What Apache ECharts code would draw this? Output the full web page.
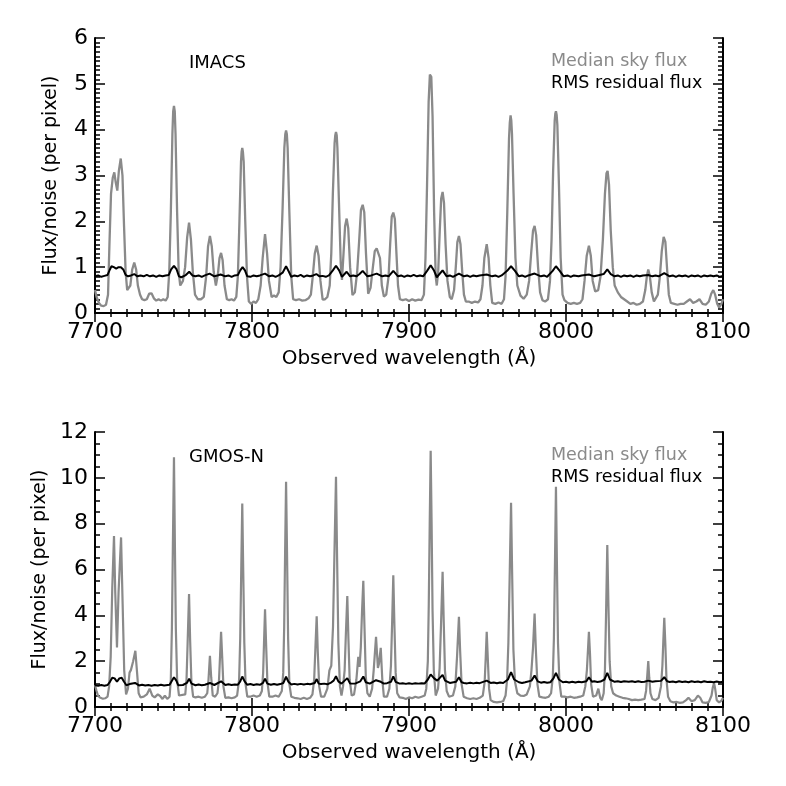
<!DOCTYPE html>
<html>
<head>
<meta charset="utf-8">
<script src="https://cdn.jsdelivr.net/npm/echarts@6/dist/echarts.min.js"></script>
<style>
  html, body { margin: 0; padding: 0; background: #fff; }
  #main { width: 786px; height: 786px; }
</style>
</head>
<body>
<div id="main"></div>
<script>
// wavelength (A), flux/noise
const imacsSky = [
  [7700, 0.5], [7701, 0.35], [7702.5, 0.22], [7704, 0.16], [7705.5, 0.15], [7707, 0.18], [7708.3, 0.4],
  [7709.2, 1.5], [7710.2, 2.6], [7711.3, 2.95], [7712.3, 3.07], [7713.2, 2.85], [7714.2, 2.67], [7715.2, 3.1],
  [7716.4, 3.37], [7717.5, 3.0], [7718.5, 1.9], [7719.5, 0.9], [7720.5, 0.5], [7721.5, 0.48],
  [7722.5, 0.6], [7723.7, 0.95], [7725, 1.1], [7726.2, 0.95], [7727.3, 0.6], [7728.7, 0.4], [7730, 0.3],
  [7731.5, 0.28], [7733, 0.3], [7734.5, 0.42], [7736, 0.43], [7737.5, 0.32], [7739, 0.27], [7740.5, 0.3],
  [7742, 0.27], [7743.5, 0.3], [7745, 0.27], [7746.3, 0.35],
  [7747.3, 0.9], [7748.3, 2.2], [7749.3, 3.9], [7749.8, 4.4], [7750.3, 4.52], [7750.8, 4.4], [7751.3, 3.9], [7752.3, 2.2], [7753.3, 0.9], [7754.3, 0.6],
  [7756, 0.7], [7757.4, 1.0], [7758.7, 1.65], [7759.9, 1.97], [7761.1, 1.6], [7762.3, 0.9], [7763.7, 0.4], [7765.5, 0.3],
  [7767.5, 0.3], [7769.3, 0.35], [7770.8, 0.8], [7772, 1.45], [7773.2, 1.68], [7774.4, 1.45], [7775.6, 0.9], [7777, 0.6],
  [7778.3, 0.85], [7779.3, 1.2], [7780.3, 1.31], [7781.3, 1.15], [7782.5, 0.6], [7784, 0.3],
  [7785.5, 0.28], [7787, 0.3], [7788.5, 0.27], [7790, 0.35],
  [7791, 0.8], [7792, 2.0], [7793, 3.3], [7793.4, 3.52], [7793.8, 3.6], [7794.2, 3.52], [7794.7, 3.3], [7795.7, 2.0], [7796.8, 0.8], [7798, 0.25],
  [7799.5, 0.2], [7801, 0.25], [7802.5, 0.22], [7804, 0.3],
  [7805.5, 0.6], [7806.8, 1.2], [7808.3, 1.72], [7809.6, 1.3], [7810.8, 0.7], [7812.5, 0.35],
  [7814, 0.38], [7815.5, 0.35], [7817, 0.45],
  [7818.2, 1.0], [7819.5, 2.3], [7820.6, 3.6], [7821.2, 3.9], [7821.7, 3.98], [7822.2, 3.9], [7822.7, 3.6], [7823.8, 2.2], [7825, 0.8], [7826.2, 0.3],
  [7828, 0.28], [7830, 0.3], [7832, 0.27], [7834, 0.28], [7836, 0.32], [7837.5, 0.4],
  [7838.7, 0.8], [7840, 1.3], [7841.2, 1.47], [7842.4, 1.25], [7843.6, 0.7], [7845, 0.29],
  [7846.5, 0.3], [7848, 0.35], [7849.5, 0.6],
  [7850.5, 1.3], [7851.5, 2.6], [7852.6, 3.7], [7853.05, 3.88], [7853.5, 3.95], [7853.95, 3.88], [7854.4, 3.6], [7855.4, 2.4], [7856.5, 1.1], [7857.3, 0.72],
  [7858.3, 1.3], [7859.3, 1.9], [7860.3, 2.06], [7861.3, 1.85], [7862.5, 1.0], [7864, 0.39],
  [7865.5, 0.45], [7867, 0.9],
  [7868.3, 1.6], [7869.4, 2.25], [7870.5, 2.36], [7871.5, 2.2], [7872.6, 1.3], [7874, 0.42],
  [7875.5, 0.55], [7877, 1.0], [7878.2, 1.35], [7879.4, 1.41], [7880.5, 1.38], [7881.5, 1.2], [7882.7, 0.6], [7884, 0.36],
  [7885.5, 0.4], [7887, 0.8],
  [7888, 1.5], [7889, 2.1], [7890, 2.19], [7891, 2.05], [7892, 1.3], [7893, 0.6], [7894.2, 0.3],
  [7896, 0.28], [7898, 0.3], [7900, 0.26], [7902, 0.3], [7904, 0.27], [7906, 0.29], [7908, 0.28], [7909.5, 0.4],
  [7910.5, 1.2], [7911.5, 2.8], [7912.5, 4.6], [7913.3, 5.2], [7914.2, 5.15], [7915, 4.3], [7916, 2.2], [7917, 0.8], [7917.7, 0.6],
  [7918.6, 0.9], [7919.6, 1.8], [7920.5, 2.5], [7921.4, 2.64], [7922.3, 2.4], [7923.3, 1.5], [7924.5, 0.7], [7926, 0.35], [7927.2, 0.3],
  [7928.7, 0.5], [7929.8, 1.0], [7930.8, 1.55], [7931.8, 1.68], [7932.8, 1.5], [7933.9, 0.9], [7935, 0.4], [7936.2, 0.25],
  [7938, 0.25], [7940, 0.22], [7942, 0.25], [7944, 0.23], [7945.5, 0.3],
  [7946.8, 0.6], [7948, 1.2], [7949.5, 1.5], [7950.7, 1.2], [7951.8, 0.6], [7953, 0.22],
  [7955, 0.2], [7957, 0.23], [7959, 0.2], [7960.5, 0.3],
  [7961.5, 0.8], [7962.6, 2.2], [7963.7, 3.8], [7964.2, 4.15], [7964.7, 4.31], [7965.15, 4.2], [7965.6, 3.9], [7966.6, 2.6], [7967.8, 1.2], [7969, 0.6], [7971, 0.38], [7973, 0.31],
  [7975, 0.4], [7976.5, 0.7], [7977.8, 1.3], [7979, 1.8], [7980, 1.9], [7981, 1.7], [7982.2, 1.0], [7983.5, 0.45], [7985, 0.28], [7986.7, 0.25],
  [7988.5, 0.3], [7989.8, 0.7], [7990.8, 1.6], [7991.8, 3.1], [7992.8, 4.2], [7993.2, 4.35], [7993.6, 4.4], [7994.05, 4.32], [7994.5, 4.1], [7995.5, 2.8], [7996.6, 1.2], [7997.8, 0.4], [7999, 0.28],
  [8001, 0.22], [8003, 0.2], [8005, 0.22], [8007, 0.2], [8009, 0.22], [8010.5, 0.3],
  [8011.8, 0.7], [8013.2, 1.25], [8014.6, 1.47], [8015.8, 1.25], [8017, 0.7], [8018.6, 0.47],
  [8020.5, 0.5], [8022, 0.8], [8023.5, 1.6], [8024.8, 2.6], [8025.8, 3.05], [8026.5, 3.1], [8027.4, 2.8], [8028.5, 1.8], [8029.8, 1.0],
  [8031, 0.6], [8033, 0.45], [8035, 0.35], [8037, 0.3],
  [8039, 0.25], [8041, 0.2], [8043, 0.22], [8045, 0.18], [8047, 0.2], [8049, 0.25], [8050.5, 0.5],
  [8051.5, 0.8], [8052.4, 0.95], [8053.4, 0.8], [8054.6, 0.45], [8056, 0.25], [8057.2, 0.25],
  [8058.5, 0.4], [8059.8, 0.8], [8061, 1.35], [8062.2, 1.66], [8063.3, 1.55], [8064.5, 0.9], [8065.5, 0.4], [8066.8, 0.22],
  [8069, 0.2], [8071, 0.18], [8073, 0.2], [8075, 0.2], [8077, 0.25], [8079, 0.3], [8081, 0.22], [8083, 0.25], [8085, 0.3],
  [8087, 0.2], [8089, 0.18], [8091, 0.25], [8092.5, 0.42], [8093.8, 0.5], [8095, 0.4], [8096.3, 0.2], [8097.5, 0.12], [8099, 0.2], [8100, 0.3]
]

const imacsRms = [
  [7700, 0.8], [7702, 0.82], [7704, 0.79], [7706, 0.81], [7708, 0.83], [7709.5, 0.95], [7710.5, 1.02], [7712, 1.0], [7713.5, 0.97],
  [7715, 1.0], [7716.5, 1.0], [7718, 0.95], [7719.5, 0.83], [7721, 0.8], [7723, 0.82], [7725, 0.85], [7727, 0.8], [7729, 0.82],
  [7731, 0.8], [7733, 0.83], [7735, 0.8], [7737, 0.82], [7739, 0.79], [7741, 0.82], [7743, 0.8], [7745, 0.82],
  [7747, 0.83], [7748.5, 0.95], [7750.3, 1.03], [7752, 0.95], [7753.5, 0.8], [7755, 0.78], [7757.5, 0.82], [7760, 0.9],
  [7762, 0.82], [7764, 0.8], [7766, 0.82], [7768, 0.79], [7770, 0.82], [7773, 0.86], [7776, 0.8], [7778, 0.82],
  [7780, 0.84], [7783, 0.8], [7785, 0.82], [7787, 0.79], [7789, 0.82], [7791, 0.83], [7792.5, 0.93], [7794, 1.0], [7795.5, 0.93], [7797, 0.8],
  [7799, 0.79], [7801, 0.82], [7803, 0.8], [7805, 0.82], [7808.3, 0.86], [7811, 0.8], [7813, 0.82], [7815, 0.79], [7817, 0.82],
  [7819.5, 0.88], [7821.7, 1.02], [7823.5, 0.9], [7825, 0.79], [7827, 0.82], [7829, 0.8], [7831, 0.83], [7833, 0.79], [7835, 0.82],
  [7837, 0.8], [7839, 0.82], [7841, 0.85], [7843, 0.8], [7845, 0.81], [7847, 0.79], [7849, 0.82], [7851.5, 0.93],
  [7853.5, 1.03], [7855.5, 0.93], [7857.3, 0.79], [7860.3, 0.9], [7862.5, 0.8], [7864.5, 0.82], [7866.5, 0.8], [7868.5, 0.85], [7870.5, 0.92], [7873.5, 0.8],
  [7876, 0.82], [7879.4, 0.86], [7883, 0.8], [7885, 0.82], [7887, 0.8], [7890, 0.92], [7893, 0.8], [7895, 0.82], [7897, 0.79], [7899, 0.82], [7901, 0.8],
  [7903, 0.83], [7905, 0.8], [7907, 0.82], [7909, 0.8], [7911.5, 0.92], [7913.8, 1.04], [7916, 0.92], [7917.7, 0.78], [7921.4, 0.93], [7924, 0.8],
  [7926, 0.82], [7928, 0.79], [7931.8, 0.86], [7935, 0.8], [7937, 0.82], [7939, 0.79], [7941, 0.82], [7943, 0.8], [7945, 0.82], [7949.5, 0.84],
  [7953, 0.8], [7955, 0.82], [7957, 0.79], [7959, 0.82],
  [7962.5, 0.92], [7965, 1.02], [7967.5, 0.92], [7970, 0.8], [7972, 0.82], [7974, 0.79], [7976, 0.82], [7980, 0.86], [7984, 0.8], [7986, 0.82], [7988, 0.79],
  [7991.5, 0.92], [7993.6, 1.02], [7996, 0.92], [7998.5, 0.8], [8001, 0.82], [8003, 0.79], [8005, 0.82], [8008, 0.8], [8010, 0.82], [8014.6, 0.84], [8018, 0.8],
  [8020, 0.82], [8024, 0.85], [8026.3, 0.95], [8028.5, 0.85], [8031, 0.8], [8033, 0.82], [8035, 0.79], [8037, 0.82], [8039, 0.8],
  [8041, 0.82], [8043, 0.79], [8045, 0.82], [8047, 0.8], [8049, 0.82], [8052.4, 0.83], [8055, 0.8], [8057, 0.82],
  [8059, 0.8], [8062.6, 0.87], [8066, 0.8], [8068, 0.82], [8070, 0.79], [8072, 0.82], [8074, 0.8], [8076, 0.82], [8078, 0.79], [8080, 0.82],
  [8082, 0.8], [8084, 0.82], [8086, 0.79], [8088, 0.82], [8090, 0.8], [8092, 0.82], [8094, 0.8], [8096, 0.82], [8098, 0.79], [8100, 0.81]
]

const gmosSky = [
  [7700, 0.95], [7701, 0.7], [7702, 0.48], [7703.5, 0.4], [7705, 0.36], [7706.5, 0.38], [7708, 0.45], [7709, 0.9],
  [7710, 2.2], [7711, 5.2], [7712.1, 7.46], [7712.9, 5.0], [7714, 2.6], [7715, 5.0], [7716.6, 7.4], [7717.6, 4.5],
  [7718.6, 1.6], [7719.8, 0.55], [7721, 0.8], [7722, 1.5], [7722.9, 1.62], [7724.3, 2.0], [7725.7, 2.45], [7726.8, 1.5],
  [7727.8, 0.6], [7729, 0.42], [7731, 0.45], [7733, 0.55], [7734.8, 0.8], [7736.5, 0.5], [7738, 0.42], [7740, 0.55],
  [7741.5, 0.48], [7743, 0.35], [7744.5, 0.5], [7746, 0.35], [7747.5, 0.45],
  [7748.3, 1.2], [7749, 3.5], [7749.6, 7.0], [7750.3, 10.9], [7750.9, 7.0], [7751.5, 3.4], [7752.3, 1.2], [7753.5, 0.5],
  [7757.5, 0.55], [7758.3, 1.2], [7759, 2.8], [7759.9, 4.93], [7760.6, 2.9], [7761.4, 1.1], [7762.5, 0.45],
  [7764, 0.42], [7766, 0.45], [7768, 0.4], [7770, 0.45], [7771.5, 0.6],
  [7772.3, 1.2], [7773.2, 2.23], [7774, 1.3], [7775, 0.5], [7776.5, 0.45], [7778, 0.6],
  [7779, 1.2], [7779.7, 2.3], [7780.3, 3.28], [7781, 2.2], [7781.8, 0.9], [7783, 0.4],
  [7785, 0.42], [7787, 0.38], [7789, 0.42], [7790.5, 0.5],
  [7791.8, 1.2], [7792.5, 3.0], [7793.2, 6.2], [7793.8, 8.88], [7794.4, 6.0], [7795.1, 2.8], [7795.9, 1.0], [7797, 0.45],
  [7799, 0.45], [7801, 0.5], [7803, 0.45], [7805, 0.5], [7806.3, 0.7],
  [7807.1, 1.5], [7807.7, 2.9], [7808.3, 4.26], [7809, 2.7], [7809.8, 1.1], [7811, 0.45],
  [7813, 0.45], [7815, 0.5], [7817, 0.45], [7819, 0.7],
  [7819.9, 1.5], [7820.5, 3.5], [7821.1, 6.8], [7821.7, 9.83], [7822.3, 6.8], [7823, 3.0], [7823.8, 1.0], [7825, 0.45],
  [7827, 0.4], [7829, 0.38], [7831, 0.35], [7833, 0.4], [7835, 0.35], [7837, 0.4], [7838.5, 0.55],
  [7839.6, 1.2], [7840.4, 2.6], [7841.2, 3.96], [7841.9, 2.4], [7842.8, 0.9], [7844, 0.45],
  [7846, 0.45], [7848, 0.8], [7849.3, 1.6], [7850.5, 1.8], [7851.6, 3.5], [7852.6, 7.0], [7853.5, 10.05], [7854.2, 6.5],
  [7855, 2.8], [7856, 0.9], [7857, 0.5],
  [7858, 0.9], [7859, 1.6], [7859.8, 3.2], [7860.7, 4.84], [7861.4, 3.0], [7862.2, 1.2], [7863.5, 0.5],
  [7865, 0.55], [7866.5, 1.2], [7867.7, 2.19], [7868.5, 1.75], [7869.3, 2.6], [7870.1, 4.2], [7870.9, 5.51], [7871.6, 3.6],
  [7872.5, 1.3], [7873.5, 0.6], [7875, 0.45],
  [7876.5, 0.8], [7877.5, 1.6], [7879, 3.06], [7880.2, 1.7], [7880.9, 1.9], [7882, 2.58], [7883, 1.2], [7884, 0.45],
  [7886, 0.45], [7887.5, 0.8], [7888.5, 1.8], [7889.3, 3.8], [7890, 5.75], [7890.7, 3.6], [7891.5, 1.5], [7892.5, 0.6], [7894, 0.42],
  [7896, 0.4], [7898, 0.35], [7900, 0.42], [7902, 0.38], [7904, 0.45], [7906, 0.4], [7908, 0.45], [7910, 0.5], [7911, 0.8],
  [7912, 2.0], [7912.6, 4.5], [7913.2, 8.0], [7913.8, 11.18], [7914.4, 8.0], [7915, 4.2], [7915.8, 1.6], [7917, 0.5],
  [7918.5, 0.8], [7919.5, 1.7], [7920.4, 3.6], [7921.4, 5.9], [7922.1, 3.8], [7922.9, 1.6], [7924, 0.7], [7925.5, 0.45],
  [7928, 0.5], [7929.5, 0.9], [7930.6, 2.2], [7931.8, 3.94], [7932.6, 2.4], [7933.5, 1.0], [7934.8, 0.45],
  [7937, 0.38], [7939, 0.35], [7941, 0.38], [7943, 0.35], [7945, 0.4], [7947, 0.5],
  [7948.2, 1.1], [7948.9, 2.2], [7949.5, 3.28], [7950.2, 2.1], [7951, 0.8], [7952, 0.3],
  [7954, 0.22], [7956, 0.2], [7958, 0.22], [7960, 0.25], [7961.5, 0.5],
  [7962.5, 1.2], [7963.3, 2.8], [7964.2, 6.0], [7965, 8.91], [7965.7, 5.8], [7966.5, 2.5], [7967.5, 1.1], [7969, 0.6],
  [7971, 0.5], [7973, 0.48],
  [7975, 0.55], [7977, 0.9], [7978, 1.6], [7979, 2.6], [7980, 4.08], [7980.8, 2.5], [7981.8, 1.0], [7983, 0.45],
  [7985, 0.42], [7987, 0.4], [7989, 0.45], [7990.5, 0.6],
  [7991.6, 1.3], [7992.3, 3.0], [7993, 6.4], [7993.6, 9.61], [7994.2, 6.3], [7994.9, 2.8], [7995.8, 1.1], [7997, 0.45],
  [7999, 0.45], [8001, 0.42], [8003, 0.45], [8005, 0.4], [8007, 0.42], [8009, 0.45], [8011, 0.5], [8012.3, 0.9],
  [8013.3, 1.6], [8014, 2.5], [8014.6, 3.28], [8015.3, 2.3], [8016, 1.0], [8017.2, 0.45], [8019.2, 0.5], [8020.6, 0.8],
  [8021.8, 0.4], [8022.8, 0.3],
  [8024, 0.6], [8024.8, 1.6], [8025.5, 4.0], [8026.3, 7.07], [8027, 4.5], [8027.8, 2.0], [8028.8, 0.9], [8030, 0.6],
  [8032, 0.5], [8034, 0.45], [8036, 0.4], [8038, 0.38],
  [8040, 0.35], [8042, 0.3], [8044, 0.32], [8046, 0.3], [8048, 0.32], [8050, 0.35], [8051, 0.7],
  [8051.8, 1.4], [8052.4, 2.0], [8053, 1.3], [8053.8, 0.6], [8055, 0.35], [8057, 0.3], [8059, 0.4], [8060.5, 0.9],
  [8061.4, 1.8], [8062, 2.9], [8062.6, 3.89], [8063.3, 2.7], [8064, 1.2], [8065, 0.45], [8066.5, 0.25],
  [8068.5, 0.2], [8070.5, 0.22], [8072.5, 0.18], [8074.5, 0.2], [8076.5, 0.3], [8078, 0.4], [8080, 0.25], [8082, 0.3],
  [8084, 0.5], [8085.5, 0.4], [8087, 0.2], [8089, 0.18], [8091, 0.22], [8092.7, 0.5],
  [8093.5, 0.85], [8094.3, 1.05], [8095, 0.8], [8096, 0.3], [8097.5, 0.2], [8099, 0.28], [8100, 0.4]
]

const gmosRms = [
  [7700, 0.95], [7702, 0.93], [7704, 0.96], [7706, 0.93], [7708, 0.96], [7709.5, 1.1], [7711, 1.28], [7712.5, 1.25], [7714, 1.1], [7715.5, 1.25],
  [7717, 1.28], [7718.5, 1.1], [7720, 0.95], [7722, 1.0], [7725.5, 1.05], [7728, 0.94], [7730, 0.97], [7732, 0.94], [7734, 0.96], [7736, 0.93],
  [7738, 0.96], [7740, 0.94], [7742, 0.97], [7744, 0.94], [7747.5, 0.97], [7749, 1.15], [7750.3, 1.3], [7751.8, 1.15], [7753, 0.95], [7756, 0.96],
  [7758.5, 1.05], [7760, 1.23], [7761.5, 1.02], [7764, 0.95], [7766, 0.98], [7768, 0.95], [7770, 0.97], [7773.2, 1.05], [7776, 0.96], [7780.3, 1.12],
  [7783, 0.96], [7785, 0.99], [7787, 0.96], [7789, 0.98], [7791, 0.97], [7792.5, 1.12], [7793.8, 1.33], [7795.3, 1.12], [7797, 0.97], [7799, 1.0], [7801, 0.96],
  [7803, 0.99], [7805, 0.97], [7807, 1.05], [7808.3, 1.24], [7809.8, 1.02], [7812, 0.97], [7814, 1.0], [7816, 0.97], [7818, 1.0], [7820, 1.05], [7821.7, 1.32],
  [7823.2, 1.1], [7825, 0.98], [7827, 1.01], [7829, 0.98], [7831, 1.01], [7833, 0.98], [7835, 1.01], [7837, 0.99], [7840, 1.05], [7841.2, 1.22], [7842.5, 1.02],
  [7844, 1.0], [7846, 1.02], [7848, 0.99], [7850, 1.05], [7852, 1.15], [7853.5, 1.34], [7855, 1.12], [7857, 1.02], [7860.7, 1.26], [7862.5, 1.02],
  [7866, 1.03], [7869, 1.12], [7870.9, 1.33], [7872.5, 1.08], [7875, 1.02], [7879, 1.17], [7882, 1.1], [7884, 1.02],
  [7886, 1.04], [7888.5, 1.1], [7890, 1.34], [7891.5, 1.1], [7894, 1.02], [7896, 1.04], [7898, 1.01], [7900, 1.04], [7902, 1.01], [7904, 1.04],
  [7906, 1.02], [7908, 1.04], [7910, 1.03], [7912, 1.2], [7913.8, 1.42], [7916, 1.25], [7918, 1.15], [7921.4, 1.4], [7923, 1.15], [7926, 1.05], [7930, 1.1],
  [7931.8, 1.3], [7933.5, 1.08], [7935, 1.05], [7937, 1.03], [7939, 1.06], [7941, 1.03], [7943, 1.06], [7945, 1.04], [7949.5, 1.15], [7952, 1.05], [7954, 1.07],
  [7956, 1.04], [7958, 1.07], [7960, 1.05], [7963, 1.2], [7965, 1.52], [7967, 1.2], [7970, 1.08], [7972, 1.05], [7974, 1.08], [7978, 1.15], [7980, 1.37],
  [7982, 1.12], [7984, 1.06], [7986, 1.09], [7988, 1.06], [7990, 1.08], [7992, 1.25], [7993.6, 1.49], [7995.5, 1.2], [7998, 1.08], [8000, 1.1], [8002, 1.07],
  [8004, 1.1], [8006, 1.07], [8008, 1.1], [8010, 1.08], [8013, 1.12], [8014.6, 1.3], [8016.5, 1.1], [8018, 1.12], [8020, 1.09], [8022, 1.11], [8024.5, 1.2], [8026.3, 1.49],
  [8028, 1.2], [8031, 1.1], [8033, 1.12], [8035, 1.09], [8037, 1.12], [8040, 1.1], [8042, 1.12], [8044, 1.09], [8046, 1.12], [8048, 1.09], [8050, 1.1], [8052.4, 1.15], [8055, 1.1],
  [8057, 1.12], [8060.5, 1.14], [8062.6, 1.3], [8064.5, 1.12], [8066, 1.09], [8068, 1.11], [8070, 1.08], [8072, 1.12], [8074, 1.09], [8076, 1.11],
  [8078, 1.08], [8080, 1.12], [8082, 1.09], [8084, 1.11], [8086, 1.08], [8088, 1.12], [8090, 1.09], [8092, 1.1], [8094, 1.08], [8096, 1.11], [8098, 1.08], [8100, 1.1]
]

const panelNames = ['IMACS', 'GMOS-N']
const legendNames = ['Median sky flux', 'RMS residual flux']
const xRange = [7700, 8100]
const yMaxes = [6, 12]
const yIntervals = [1, 2]
const yMinorSplits = [10, 4]

const FONT = 'DejaVu Sans'
const SKY_COLOR = '#8a8a8a'

const myChart = echarts.init(document.getElementById('main'), null, { renderer: 'canvas' })

const grids = [
  { left: 95, top: 38, width: 628, height: 275 },
  { left: 95, top: 432, width: 628, height: 275 }
]

const tickStyle = { color: '#000', width: 1.5 }
const xAxes = []
const yAxes = []
grids.forEach((g, i) => {
  const lineStyle = { color: '#000', width: 2 }
  xAxes.push({
    type: 'value', gridIndex: i, position: 'bottom',
    min: xRange[0], max: xRange[1], interval: 100,
    name: 'Observed wavelength (Å)', nameLocation: 'middle', nameGap: 36,
    nameTextStyle: { fontFamily: FONT, fontSize: 20, color: '#000' },
    axisLine: { show: true, lineStyle },
    axisTick: { show: true, inside: true, length: 9, lineStyle: tickStyle },
    minorTick: { show: true, splitNumber: 10, length: 4, lineStyle: tickStyle },
    axisLabel: { fontFamily: FONT, fontSize: 22, color: '#000', margin: 8, formatter: v => String(v) },
    splitLine: { show: false }
  })
  xAxes.push({
    type: 'value', gridIndex: i, position: 'top',
    min: xRange[0], max: xRange[1], interval: 100,
    axisLine: { show: true, lineStyle },
    axisTick: { show: true, inside: true, length: 9, lineStyle: tickStyle },
    minorTick: { show: true, splitNumber: 10, length: 4, lineStyle: tickStyle },
    axisLabel: { show: false },
    splitLine: { show: false }
  })
  yAxes.push({
    type: 'value', gridIndex: i, position: 'left',
    min: 0, max: yMaxes[i], interval: yIntervals[i],
    name: 'Flux/noise (per pixel)', nameLocation: 'middle', nameGap: 34,
    nameTextStyle: { fontFamily: FONT, fontSize: 19, color: '#000' },
    axisLine: { show: true, lineStyle },
    axisTick: { show: true, inside: true, length: 10, lineStyle: tickStyle },
    minorTick: { show: true, splitNumber: yMinorSplits[i], length: 5, lineStyle: tickStyle },
    axisLabel: { fontFamily: FONT, fontSize: 22, color: '#000', margin: 7 },
    splitLine: { show: false }
  })
  yAxes.push({
    type: 'value', gridIndex: i, position: 'right',
    min: 0, max: yMaxes[i], interval: yIntervals[i],
    axisLine: { show: true, lineStyle },
    axisTick: { show: true, inside: true, length: 10, lineStyle: tickStyle },
    minorTick: { show: true, splitNumber: yMinorSplits[i], length: 5, lineStyle: tickStyle },
    axisLabel: { show: false },
    splitLine: { show: false }
  })
})

const lineSeries = (data, i, color, width) => ({
  type: 'line', xAxisIndex: i * 2, yAxisIndex: i * 2,
  data, showSymbol: false, symbol: 'none', clip: true,
  lineStyle: { color, width },
  emphasis: { disabled: true }
})

const titles = []
grids.forEach((g, i) => {
  titles.push({ text: panelNames[i], left: 189, top: g.top + 16,
    textStyle: { fontFamily: FONT, fontSize: 18, fontWeight: 'normal', color: '#000' } })
  titles.push({ text: legendNames[0], left: 551, top: g.top + 14,
    textStyle: { fontFamily: FONT, fontSize: 17.5, fontWeight: 'normal', color: SKY_COLOR } })
  titles.push({ text: legendNames[1], left: 551, top: g.top + 36,
    textStyle: { fontFamily: FONT, fontSize: 17.5, fontWeight: 'normal', color: '#000' } })
})
titles.forEach(t => { t.padding = 0 })

myChart.setOption({
  animation: false,
  backgroundColor: '#fff',
  title: titles,
  grid: grids,
  xAxis: xAxes,
  yAxis: yAxes,
  series: [
    lineSeries(imacsSky, 0, SKY_COLOR, 2.3),
    lineSeries(imacsRms, 0, '#000', 2),
    lineSeries(gmosSky, 1, SKY_COLOR, 2.2),
    lineSeries(gmosRms, 1, '#000', 2)
  ]
})
</script>
</body>
</html>
